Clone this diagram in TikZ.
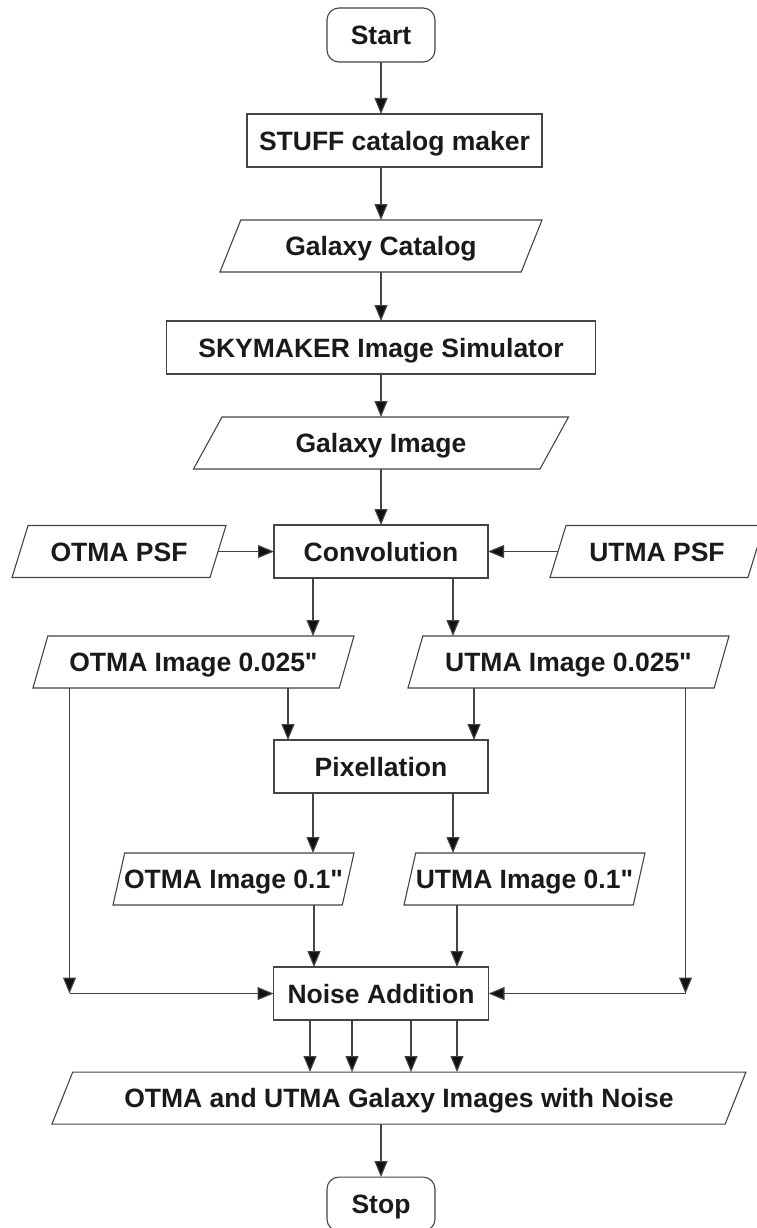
\documentclass[tikz,border=0pt]{standalone}
\usepackage{fontspec}
\setmainfont{Liberation Sans}[Ligatures=TeXOff]
\usepackage{xcolor}
\definecolor{lin00}{HTML}{444444}
\definecolor{arr00}{HTML}{111111}
\definecolor{txt00}{HTML}{1A1A1A}
\usepackage{tikz}
\usetikzlibrary{positioning}
\usetikzlibrary{shapes.geometric, arrows.meta}
\tikzstyle{term} = [rectangle, rounded corners=12pt, minimum width=108pt, minimum height=54pt, outer sep=0pt, text centered, draw=lin00, line width=1.1pt]
\tikzstyle{proc} = [rectangle, minimum height=53pt, outer sep=0pt, text centered, draw=lin00, line width=1.1pt]
\tikzstyle{data} = [trapezium, trapezium stretches body, minimum height=52pt, inner xsep=0pt, outer sep=0pt, text centered, draw=lin00, line width=1.1pt]
\tikzstyle{flow_arr} = [line width=1.1pt, -{Triangle[length=16pt,width=13pt,fill=arr00]}, draw=lin00]

\begin{document}
\begin{tikzpicture}[font=\bfseries\fontsize{26.5}{30}\selectfont, text=txt00, text height=19pt, text depth=0pt]
        \useasboundingbox (0pt,0pt) rectangle (756pt,-1228pt);
        \node (start)[term] at (381pt,-35pt) {Start};
        \node (stuff)[proc, minimum width=295pt, below=52pt of start, xshift=13.5pt]{STUFF catalog maker};
        \node (gcat)[data, trapezium left angle=51, trapezium right angle=129, minimum width=322pt, below=53pt of stuff, xshift=-13.5pt]{Galaxy Catalog};
        \node (sky)[proc, minimum width=429pt, below=49pt of gcat]{SKYMAKER Image Simulator};
        \node (gimg)[data, trapezium left angle=42, trapezium right angle=138, minimum width=375pt, below=43pt of sky]{Galaxy Image};
        \node (conv)[proc, minimum width=214pt, below=56pt of gimg]{Convolution};
        \node (opsf)[data, trapezium left angle=58, trapezium right angle=122, minimum width=214pt, left=56pt of conv]{OTMA PSF};
        \node (upsf)[data, trapezium left angle=58, trapezium right angle=122, minimum width=214pt, right=70pt of conv]{UTMA PSF};
        \draw [flow_arr] (start.south) -- (start.south |- stuff.north);
        \draw [flow_arr] (stuff.south -| gcat.north) -- (gcat.north);
        \draw [flow_arr] (gcat.south) -- (sky.north);
        \draw [flow_arr] (sky.south) -- (gimg.north);
        \draw [flow_arr] (gimg.south) -- (conv.north);
        \draw [flow_arr] (opsf.east) -- (opsf.east -| conv.west);
        \draw [flow_arr] (upsf.west) -- (upsf.west -| conv.east);
        \node (o025)[data, trapezium left angle=60, trapezium right angle=120, minimum width=321pt, below=58pt of conv, xshift=-187.5pt]{OTMA Image 0.025"};
        \node (u025)[data, trapezium left angle=60, trapezium right angle=120, minimum width=321pt, below=58pt of conv, xshift=187.5pt]{UTMA Image 0.025"};
        \draw [flow_arr] ([xshift=-68pt]conv.south) -- ([xshift=-68pt]conv.south |- o025.north);
        \draw [flow_arr] ([xshift=72pt]conv.south) -- ([xshift=72pt]conv.south |- u025.north);
        \node (pix)[proc, minimum width=214pt, below=52pt of o025, xshift=187.5pt]{Pixellation};
        \draw [flow_arr] ([xshift=-93pt]pix.north |- o025.south) -- ([xshift=-93pt]pix.north);
        \draw [flow_arr] ([xshift=93pt]pix.north |- u025.south) -- ([xshift=93pt]pix.north);
        \node (o01)[data, trapezium left angle=65.5, trapezium right angle=114.5, minimum width=241pt, inner xsep=-12pt, below=60pt of pix, xshift=-147.5pt]{OTMA Image 0.1"};
        \node (u01)[data, trapezium left angle=65.5, trapezium right angle=114.5, minimum width=241pt, inner xsep=-12pt, below=60pt of pix, xshift=143.5pt]{UTMA Image 0.1"};
        \draw [flow_arr] ([xshift=-68pt]pix.south) -- ([xshift=-68pt]pix.south |- o01.north);
        \draw [flow_arr] ([xshift=72pt]pix.south) -- ([xshift=72pt]pix.south |- u01.north);
        \node (noise)[proc, minimum width=215pt, below=62pt of o01, xshift=147.5pt]{Noise Addition};
        \draw [flow_arr] ([xshift=-67pt]noise.north |- o01.south) -- ([xshift=-67pt]noise.north);
        \draw [flow_arr] ([xshift=76pt]noise.north |- u01.south) -- ([xshift=76pt]noise.north);
        \coordinate [left=204pt of noise.west] (lturn);
        \coordinate [right=197pt of noise.east] (rturn);
        \draw [flow_arr] (lturn |- o025.south) -- (lturn);
        \draw [flow_arr] (lturn) -- (noise.west);
        \draw [flow_arr] (rturn |- u025.south) -- (rturn);
        \draw [flow_arr] (rturn) -- (noise.east);
        \node (final)[data, trapezium left angle=51, trapezium right angle=129, minimum width=694pt, below=52pt of noise, xshift=18pt]{OTMA and UTMA Galaxy Images with Noise};
        \draw [flow_arr] ([xshift=-71pt]noise.south) -- ([xshift=-71pt]noise.south |- final.north);
        \draw [flow_arr] ([xshift=-29pt]noise.south) -- ([xshift=-29pt]noise.south |- final.north);
        \draw [flow_arr] ([xshift=30pt]noise.south) -- ([xshift=30pt]noise.south |- final.north);
        \draw [flow_arr] ([xshift=76pt]noise.south) -- ([xshift=76pt]noise.south |- final.north);
        \node (stop)[term, below=53pt of final, xshift=-18pt]{Stop};
        \draw [flow_arr] (final.south -| stop.north) -- (stop.north);
    \end{tikzpicture}
\end{document}
